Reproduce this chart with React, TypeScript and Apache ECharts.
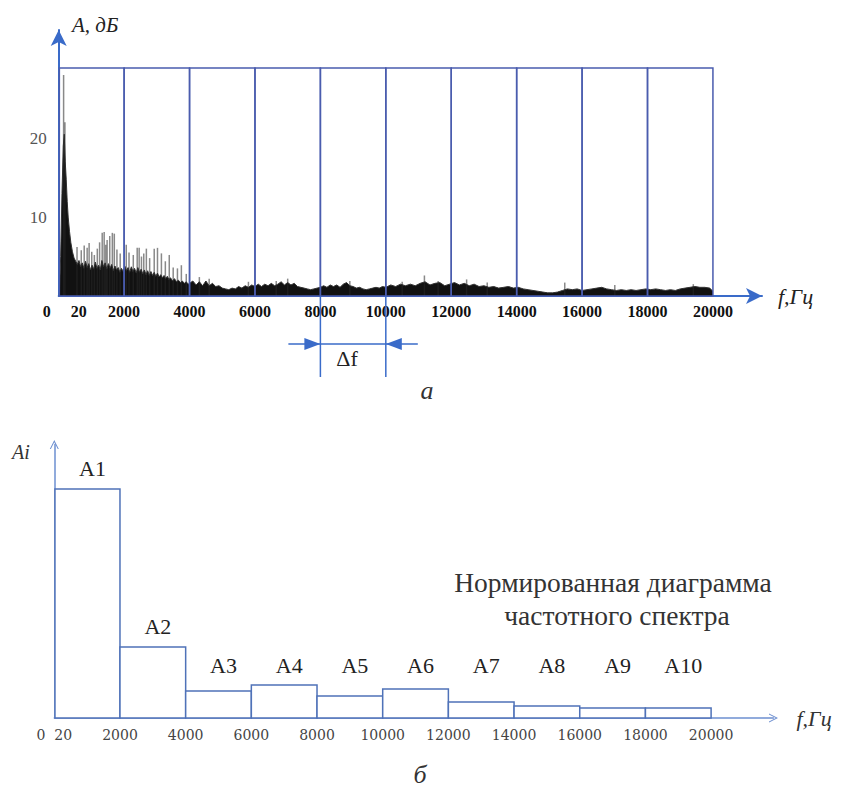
import React, { useEffect, useRef } from "react";
import * as echarts from "echarts";

// ---------- data ----------
const bandEdges = [20, 2000, 4000, 6000, 8000, 10000, 12000, 14000, 16000, 18000, 20000];
const xTickValues = [0, 2000, 4000, 6000, 8000, 10000, 12000, 14000, 16000, 18000, 20000];
const yTickValuesTop = [10, 20];
const frameTopLevel = 28.9; // dB, top edge of the band frame
const deltaBand = [8000, 10000];

// spectrum body (Hz, dB)
const spectrumBody: [number, number][] = [
  [20, 0], [60, 5], [100, 13], [140, 19], [170, 20.5], [200, 17], [230, 14.8], [260, 12], [290, 10],
  [330, 8.2], [370, 6.8], [420, 5.6], [470, 4.8], [520, 4.4], [570, 4.0], [620, 4.5], [670, 3.7],
  [720, 4.2], [770, 3.5], [820, 4.4], [870, 3.6], [920, 4.1], [970, 3.3], [1020, 3.9], [1070, 3.4],
  [1120, 4.3], [1170, 3.5], [1220, 3.9], [1270, 3.3], [1320, 4.5], [1370, 3.7], [1420, 4.2],
  [1470, 3.4], [1520, 4.1], [1570, 3.5], [1620, 4.0], [1670, 3.2], [1720, 3.8], [1770, 3.3],
  [1820, 3.6], [1870, 3.0], [1920, 3.5], [1970, 3.1], [2020, 3.8], [2070, 3.2], [2120, 3.6],
  [2170, 3.0], [2220, 3.7], [2270, 3.1], [2320, 3.5], [2370, 2.9], [2420, 3.6], [2470, 3.0],
  [2520, 3.4], [2570, 2.8], [2620, 3.3], [2670, 2.7], [2720, 3.2], [2770, 2.6], [2820, 3.1],
  [2870, 2.6], [2920, 3.0], [2970, 2.5], [3020, 2.9], [3070, 2.4], [3120, 2.7], [3170, 2.3],
  [3220, 2.6], [3270, 2.2], [3320, 2.5], [3370, 2.1], [3420, 2.3], [3480, 1.9], [3540, 2.2],
  [3600, 1.8], [3660, 2.0], [3720, 1.7], [3780, 1.9], [3840, 1.6], [3900, 1.8], [3960, 1.5],
  [4000, 1.6], [4100, 1.9], [4200, 1.4], [4300, 1.8], [4400, 1.3], [4500, 1.9], [4600, 1.3],
  [4700, 1.6], [4800, 1.2], [4900, 1.3], [5000, 1.0], [5100, 0.9], [5200, 0.8], [5300, 1.0],
  [5400, 0.9], [5500, 1.2], [5600, 1.0], [5700, 1.3], [5800, 1.1], [5900, 1.4], [6000, 1.2],
  [6100, 1.5], [6200, 1.2], [6300, 1.5], [6400, 1.3], [6500, 1.6], [6600, 1.3], [6700, 1.5],
  [6800, 1.8], [6900, 1.4], [7000, 1.7], [7100, 1.4], [7200, 1.6], [7300, 1.2], [7400, 1.1],
  [7500, 1.0], [7600, 0.9], [7700, 0.8], [7800, 0.9], [7900, 1.0], [8000, 1.1], [8100, 1.3],
  [8200, 1.1], [8300, 1.4], [8400, 1.2], [8500, 1.4], [8600, 1.1], [8700, 1.5], [8800, 1.7],
  [8900, 1.3], [9000, 1.2], [9100, 1.0], [9200, 1.1], [9300, 0.9], [9400, 0.8], [9500, 0.9],
  [9600, 1.0], [9700, 1.1], [9800, 1.0], [9900, 1.2], [10000, 1.1], [10150, 1.4], [10300, 1.2],
  [10450, 1.5], [10600, 1.3], [10750, 1.5], [10900, 1.3], [11050, 1.6], [11200, 1.8], [11350, 1.4],
  [11500, 1.6], [11650, 1.7], [11800, 1.3], [11950, 1.5], [12100, 1.7], [12250, 1.4], [12400, 1.6],
  [12550, 1.3], [12700, 1.5], [12850, 1.2], [13000, 1.3], [13150, 1.1], [13300, 1.2], [13450, 1.0],
  [13600, 1.1], [13750, 1.2], [13900, 1.0], [14050, 1.1], [14200, 0.9], [14350, 0.8], [14500, 0.7],
  [14650, 0.6], [14800, 0.5], [14950, 0.4], [15100, 0.4], [15250, 0.5], [15400, 0.7], [15550, 0.9],
  [15700, 0.8], [15850, 0.9], [16000, 0.7], [16150, 0.8], [16300, 0.9], [16450, 1.0], [16600, 1.1],
  [16750, 0.9], [16900, 0.8], [17050, 0.7], [17200, 0.8], [17350, 0.7], [17500, 0.8], [17650, 0.7],
  [17800, 0.8], [17950, 0.9], [18100, 0.8], [18250, 0.9], [18400, 0.8], [18550, 0.7], [18700, 0.8],
  [18850, 0.7], [19000, 0.9], [19150, 1.0], [19300, 1.1], [19450, 1.2], [19600, 1.1], [19750, 1.1],
  [19900, 1.0], [20000, 0.6],
];

// thin spikes rising above the dense body (Hz, dB)
const spectrumSpikes: [number, number][] = [
  [150, 28], [190, 22], [560, 6.2], [690, 5.8], [780, 6.4], [870, 6.1], [930, 6.7], [1010, 5.6],
  [1090, 5.2], [1180, 6.0], [1250, 6.8], [1330, 8.0], [1390, 8.1], [1440, 6.5], [1480, 7.1],
  [1560, 7.6], [1640, 8.0], [1700, 7.9], [1780, 5.9], [1880, 5.4], [2065, 6.5], [2150, 5.5],
  [2280, 5.2], [2400, 6.1], [2460, 6.1], [2530, 5.0], [2600, 5.4], [2680, 6.0], [2780, 4.8],
  [2920, 6.0], [3020, 6.1], [3140, 5.4], [3260, 4.4], [3380, 5.2], [3500, 3.6], [3630, 3.5],
  [3750, 3.9], [3900, 2.8], [4300, 2.4], [4600, 2.2], [5800, 1.8], [6650, 1.9], [7000, 2.2],
  [8900, 1.9], [10500, 1.8], [11180, 2.6], [11600, 1.9], [12470, 2.1], [13100, 1.7],
  [15470, 1.7], [17000, 1.4], [19400, 1.5],
];

// normalized band amplitudes (bottom chart)
const bandLabels = ["A1", "A2", "A3", "A4", "A5", "A6", "A7", "A8", "A9", "A10"];
const bandAmplitudes = [1.0, 0.31, 0.118, 0.144, 0.096, 0.127, 0.07, 0.052, 0.044, 0.044];

// ---------- styles ----------
const SERIF = "'Liberation Serif', 'Times New Roman', serif";
const SERIF_WIDE = "'DejaVu Serif', 'Liberation Serif', serif";
const AXIS_BLUE = "#3a6bc9";
const FRAME_BLUE = "#4a5cae";
const LOW_BLUE = "#6d8fd0";
const BAR_BLUE = "#4f72b8";
const CHEVRON = "path://M5,0 L10,10 L8.8,10 L5,2.4 L1.2,10 L0,10 Z";

export default function App() {
  const ref = useRef<HTMLDivElement>(null);

  useEffect(() => {
    if (!ref.current) return;
    const chart = echarts.init(ref.current, undefined, { renderer: "svg" });

    const bands = bandEdges.slice(0, -1).map((s, i) => [s, bandEdges[i + 1]]);
    const bars = bands.map((b, i) => [b[0], b[1], bandAmplitudes[i]]);

    const option: any = {
      animation: false,
      backgroundColor: "#fff",
      grid: [
        { left: 58.7, right: 86, top: 30, bottom: 493 },
        { left: 54.3, right: 74.5, top: 444.5, bottom: 71 },
      ],
      xAxis: [
        {
          type: "value", gridIndex: 0, min: 0, max: 21500,
          name: "f,Гц", nameLocation: "end", nameGap: 16,
          nameTextStyle: { fontFamily: SERIF, fontStyle: "italic", fontSize: 22, color: "#222", align: "left", verticalAlign: "middle" },
          axisLine: { show: true, lineStyle: { color: AXIS_BLUE, width: 2 }, symbol: ["none", "arrow"], symbolSize: [12, 16] },
          axisTick: { show: false },
          splitLine: { show: false },
          axisLabel: {
            customValues: xTickValues, margin: 7, fontFamily: SERIF, fontSize: 16, fontWeight: "bold", color: "#111",
            formatter: (v: number) => (v === 0 ? "{z|0     20}" : String(v)),
            rich: { z: { fontFamily: SERIF, fontSize: 16, fontWeight: "bold", color: "#111", padding: [0, 0, 0, 12] } },
          },
        },
        {
          type: "value", gridIndex: 1, min: 0, max: 21900,
          name: "f,Гц", nameLocation: "end", nameGap: 23,
          nameTextStyle: { fontFamily: SERIF, fontStyle: "italic", fontSize: 22, color: "#333", align: "left", verticalAlign: "middle" },
          axisLine: { show: true, lineStyle: { color: LOW_BLUE, width: 1.5 }, symbol: ["none", CHEVRON], symbolSize: [14, 9] },
          axisTick: { show: false },
          splitLine: { show: false },
          axisLabel: {
            customValues: xTickValues, margin: 10, fontFamily: SERIF_WIDE, fontSize: 14, color: "#444",
            formatter: (v: number) => (v === 0 ? "0  20" : String(v)),
          },
        },
      ],
      yAxis: [
        {
          type: "value", gridIndex: 0, min: 0, max: 33.7,
          axisLine: { show: true, lineStyle: { color: AXIS_BLUE, width: 2 }, symbol: ["none", "arrow"], symbolSize: [12, 16] },
          axisTick: { show: false },
          splitLine: { show: false },
          axisLabel: { customValues: yTickValuesTop, margin: 12, fontFamily: SERIF, fontSize: 17, color: "#555" },
        },
        {
          type: "value", gridIndex: 1, min: 0, max: 1.194,
          axisLine: { show: true, lineStyle: { color: LOW_BLUE, width: 1.5 }, symbol: ["none", CHEVRON], symbolSize: [14, 9] },
          axisTick: { show: false },
          splitLine: { show: false },
          axisLabel: { show: false },
        },
      ],
      series: [
        {
          type: "line", name: "spectrum", xAxisIndex: 0, yAxisIndex: 0, data: spectrumBody,
          showSymbol: false, symbol: "none", z: 1,
          lineStyle: { color: "#333", width: 1 },
          areaStyle: { color: "#111", opacity: 1 },
        },
        {
          type: "custom", name: "spikes", xAxisIndex: 0, yAxisIndex: 0, data: spectrumSpikes, z: 2,
          renderItem: (params: any, api: any) => {
            const p0 = api.coord([api.value(0), 0]);
            const p1 = api.coord([api.value(0), api.value(1)]);
            return {
              type: "line",
              shape: { x1: p0[0], y1: p0[1], x2: p1[0], y2: p1[1] },
              style: { stroke: "rgba(40,40,40,0.55)", lineWidth: 1.5 },
            };
          },
        },
        {
          type: "custom", name: "bands", xAxisIndex: 0, yAxisIndex: 0, data: bands, z: 3,
          encode: { x: [0, 1] },
          renderItem: (params: any, api: any) => {
            const a = api.coord([api.value(0), 0]);
            const b = api.coord([api.value(1), frameTopLevel]);
            return {
              type: "rect",
              shape: { x: a[0], y: b[1], width: b[0] - a[0], height: a[1] - b[1] },
              style: { fill: "none", stroke: FRAME_BLUE, lineWidth: 1.5 },
            };
          },
        },
        {
          type: "custom", name: "deltaF", xAxisIndex: 0, yAxisIndex: 0, data: [deltaBand], z: 4, clip: false,
          encode: { x: [0, 1] },
          renderItem: (params: any, api: any) => {
            const a = api.coord([api.value(0), 0]);
            const b = api.coord([api.value(1), 0]);
            const yH = a[1] + 48;
            const yEnd = a[1] + 81;
            const st = { stroke: AXIS_BLUE, lineWidth: 1.5 };
            return {
              type: "group",
              children: [
                { type: "line", shape: { x1: a[0], y1: a[1], x2: a[0], y2: yEnd }, style: st },
                { type: "line", shape: { x1: b[0], y1: b[1], x2: b[0], y2: yEnd }, style: st },
                { type: "line", shape: { x1: a[0] - 32, y1: yH, x2: b[0] + 32, y2: yH }, style: st },
                { type: "polygon", shape: { points: [[a[0], yH], [a[0] - 16, yH - 6], [a[0] - 16, yH + 6]] }, style: { fill: AXIS_BLUE } },
                { type: "polygon", shape: { points: [[b[0], yH], [b[0] + 16, yH - 6], [b[0] + 16, yH + 6]] }, style: { fill: AXIS_BLUE } },
                {
                  type: "text", x: (a[0] + b[0]) / 2 - 6, y: yH + 14,
                  style: { text: "Δf", fontFamily: SERIF, fontSize: 22, fill: "#222", align: "center", verticalAlign: "middle" },
                },
              ],
            };
          },
        },
        {
          type: "custom", name: "bars", xAxisIndex: 1, yAxisIndex: 1, data: bars, z: 3,
          encode: { x: [0, 1], y: 2 },
          renderItem: (params: any, api: any) => {
            const p0 = api.coord([api.value(0), 0]);
            const p1 = api.coord([api.value(1), api.value(2)]);
            const level = api.coord([0, 0.231])[1];
            const ty = Math.min(p1[1] - 20, level);
            return {
              type: "group",
              children: [
                {
                  type: "rect",
                  shape: { x: p0[0], y: p1[1], width: p1[0] - p0[0], height: p0[1] - p1[1] },
                  style: { fill: "#fff", stroke: BAR_BLUE, lineWidth: 1.5 },
                },
                {
                  type: "text", x: (p0[0] + p1[0]) / 2 + 5, y: ty,
                  style: { text: bandLabels[params.dataIndex], fontFamily: SERIF, fontSize: 22, fill: "#222", align: "center", verticalAlign: "middle" },
                },
              ],
            };
          },
        },
      ],
      graphic: [
        { type: "text", left: 72, top: 14, style: { text: "А, дБ", fontFamily: SERIF, fontStyle: "italic", fontSize: 21, fill: "#222" } },
        { type: "text", x: 427, y: 390, style: { text: "а", fontFamily: SERIF, fontStyle: "italic", fontSize: 26, fill: "#333", align: "center", verticalAlign: "middle" } },
        { type: "text", x: 12, y: 452, style: { text: "Ai", fontFamily: SERIF, fontStyle: "italic", fontSize: 20, fill: "#333", align: "left", verticalAlign: "middle" } },
        { type: "text", x: 420, y: 774, style: { text: "б", fontFamily: SERIF, fontStyle: "italic", fontSize: 26, fill: "#333", align: "center", verticalAlign: "middle" } },
        { type: "text", x: 613, y: 582, style: { text: "Нормированная диаграмма", fontFamily: SERIF, fontSize: 27.5, fill: "#333", align: "center", verticalAlign: "middle" } },
        { type: "text", x: 617, y: 615, style: { text: "частотного спектра", fontFamily: SERIF, fontSize: 27.5, fill: "#333", align: "center", verticalAlign: "middle" } },
      ],
    };

    chart.setOption(option);
    return () => chart.dispose();
  }, []);

  return (
    <div
      ref={ref}
      style={{ position: "fixed", left: 0, top: 0, width: 848, height: 789, background: "#fff" }}
    />
  );
}
